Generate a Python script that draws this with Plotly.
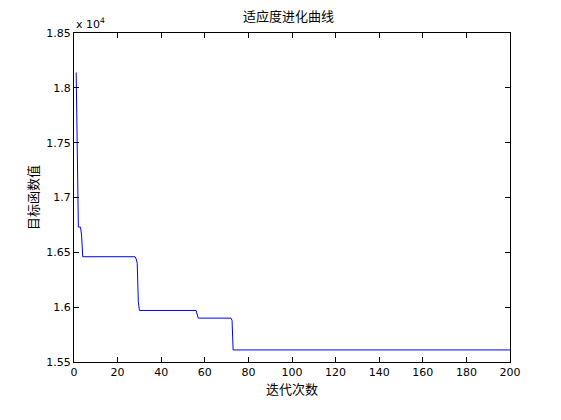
import plotly.graph_objects as go

# change points of the best fitness curve (iteration, value)
iters = [1, 1.3, 1.6, 2, 3, 3.5, 4, 28, 28.5, 29, 29.5, 30, 56, 57, 72, 72.5, 73, 200]
values = [18140, 17800, 17100, 16730, 16730, 16650, 16460, 16460, 16440, 16400, 16050,
          15970, 15970, 15900, 15900, 15880, 15610, 15610]

xticks = list(range(0, 201, 20))
yticks = [15500, 16000, 16500, 17000, 17500, 18000, 18500]
yticklabels = ["1.55", "1.6", "1.65", "1.7", "1.75", "1.8", "1.85"]

fig = go.Figure()
fig.add_trace(go.Scatter(x=iters, y=values, mode="lines",
                         line=dict(color="#0000ff", width=1)))

axis_style = dict(showline=True, linecolor="black", mirror="ticks", ticks="inside",
                  ticklen=5, tickcolor="black", showgrid=False, zeroline=False,
                  tickfont=dict(family="DejaVu Sans", size=11, color="black"))
fig.update_xaxes(range=[0, 200], tickvals=xticks, **axis_style,
                 title=dict(text="迭代次数", standoff=2,
                            font=dict(family="Noto Sans CJK SC", size=13, color="black")))
fig.update_yaxes(range=[15500, 18500], tickvals=yticks, ticktext=yticklabels, **axis_style,
                 title=dict(text="目标函数值", standoff=4,
                            font=dict(family="Noto Sans CJK SC", size=13, color="black")))
fig.update_layout(
    width=561, height=420, showlegend=False,
    paper_bgcolor="white", plot_bgcolor="white",
    margin=dict(l=66, r=59, t=25, b=66),
    title=dict(text="适应度进化曲线", x=0.5, xanchor="center", y=0.99, yanchor="top",
               font=dict(family="Noto Sans CJK SC", size=13, color="black")),
    annotations=[dict(text="x 10<sup>4</sup>", xref="paper", yref="paper", x=0, y=1,
                      xanchor="left", yanchor="bottom", showarrow=False,
                      font=dict(family="DejaVu Sans", size=11, color="black"))],
)
fig.write_html("out.html")
